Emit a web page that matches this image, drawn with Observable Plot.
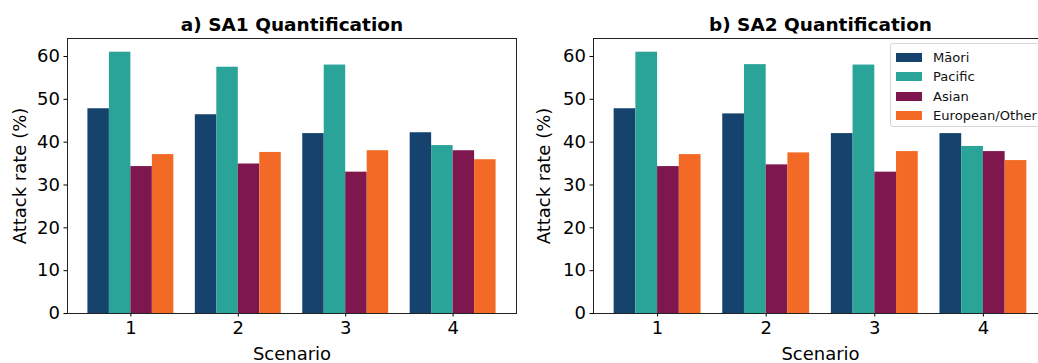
<!DOCTYPE html>
<html>
<head>
<meta charset="utf-8">
<script src="https://cdn.jsdelivr.net/npm/d3@7"></script>
<script src="https://cdn.jsdelivr.net/npm/@observablehq/plot@0.6"></script>
<style>
  html, body { margin: 0; padding: 0; background: #fff; }
  #wrap { position: relative; width: 1038px; height: 363px; overflow: hidden; font-family: "DejaVu Sans", sans-serif; }
  #left, #right { position: absolute; top: 0; }
  #left { left: 0; width: 525px; }
  #right { left: 525px; width: 531px; }
  #wrap svg { max-width: none !important; }
  #legend {
    position: absolute; left: 890px; top: 43px; width: 170px; height: 84px;
    border: 1px solid #d6d6d6; border-radius: 3px; background: rgba(255,255,255,0.85);
    box-sizing: border-box; font-size: 13.1px; color: #111;
  }
  .row { position: absolute; left: 5px; height: 20px; display: flex; align-items: center; }
  .sw { width: 26px; height: 9px; margin-right: 11px; }
</style>
</head>
<body>
<div id="wrap">
  <div id="left"></div>
  <div id="right"></div>
  <div id="legend"></div>
</div>
<script>
// Scenarios and ethnic groups
const scenarios = [1, 2, 3, 4];
const groups = ["Māori", "Pacific", "Asian", "European/Other"];
const groupColors = ["#15436d", "#2aa398", "#7e174d", "#f26a25"];
const yTicks = [0, 10, 20, 30, 40, 50, 60];

// Attack rate (%) by scenario — SA1 quantification
const sa1Maori = [47.8, 46.4, 42.0, 42.2];
const sa1Pacific = [61.0, 57.5, 58.0, 39.2];
const sa1Asian = [34.3, 34.9, 33.0, 38.0];
const sa1European = [37.1, 37.6, 38.0, 35.9];

// Attack rate (%) by scenario — SA2 quantification
const sa2Maori = [47.8, 46.6, 42.0, 42.0];
const sa2Pacific = [61.0, 58.1, 58.0, 39.0];
const sa2Asian = [34.3, 34.7, 33.0, 37.8];
const sa2European = [37.1, 37.5, 37.8, 35.7];

const barWidth = 0.2;

function rowsFor(series) {
  return scenarios.flatMap((s, i) =>
    groups.map((g, k) => ({scenario: s, group: g, slot: k, value: series[k][i]})));
}

function panel(title, series, opts) {
  const rows = rowsFor(series);
  return Plot.plot({
    width: opts.width,
    height: 363,
    marginLeft: opts.marginLeft,
    marginRight: 9,
    marginTop: 38,
    marginBottom: 50,
    style: {fontFamily: "DejaVu Sans, sans-serif", fontSize: "18px", color: "#000", background: "transparent", overflow: "visible", maxWidth: "none"},
    x: {domain: [0.41, 4.59], ticks: scenarios, tickFormat: d => String(d), tickSize: 3.5, tickPadding: 4, label: null},
    y: {domain: [0, 64.2], ticks: yTicks, tickSize: 3.5, tickPadding: 4, label: null},
    color: {domain: groups, range: groupColors},
    marks: [
      Plot.rect(rows, {
        x1: d => d.scenario - 2 * barWidth + d.slot * barWidth,
        x2: d => d.scenario - 2 * barWidth + (d.slot + 1) * barWidth,
        y1: 0,
        y2: "value",
        fill: "group"
      }),
      Plot.frame({stroke: "#222", strokeWidth: 1}),
      Plot.text([title], {frameAnchor: "top", lineAnchor: "middle", dy: -13, text: d => d, fontWeight: "bold", fontSize: 18.5}),
      Plot.text(["Scenario"], {frameAnchor: "bottom", lineAnchor: "middle", dy: 41, text: d => d, fontSize: 18}),
      Plot.text(["Attack rate (%)"], {frameAnchor: "left", lineAnchor: "middle", textAnchor: "middle", dx: opts.yLabelDx, rotate: -90, text: d => d, fontSize: 18})
    ]
  });
}

document.getElementById("left").append(
  panel("a) SA1 Quantification", [sa1Maori, sa1Pacific, sa1Asian, sa1European], {width: 525, marginLeft: 67, yLabelDx: -47}));
document.getElementById("right").append(
  panel("b) SA2 Quantification", [sa2Maori, sa2Pacific, sa2Asian, sa2European], {width: 531, marginLeft: 68, yLabelDx: -49}));

// Legend for the ethnic groups
const legend = document.getElementById("legend");
groups.forEach((g, k) => {
  const row = document.createElement("div");
  row.className = "row";
  row.style.top = (3 + k * 19.6) + "px";
  const sw = document.createElement("span");
  sw.className = "sw";
  sw.style.background = groupColors[k];
  const label = document.createElement("span");
  label.textContent = g;
  row.append(sw, label);
  legend.append(row);
});
</script>
</body>
</html>
